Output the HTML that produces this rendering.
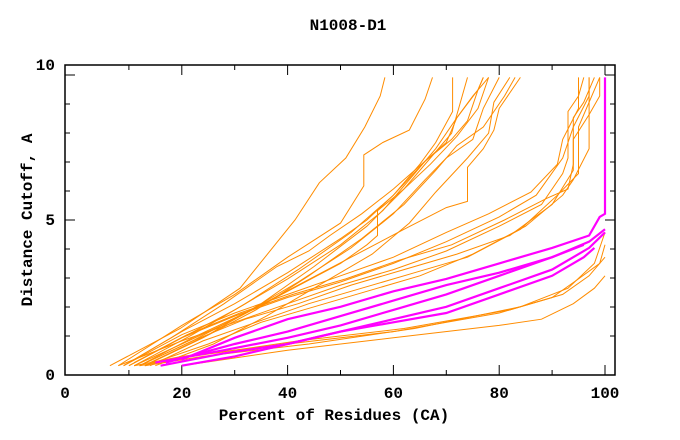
<!DOCTYPE html>
<html><head><meta charset="utf-8"><style>
body{margin:0;background:#fff}
svg{display:block}
text{font-family:"Liberation Mono",monospace;font-weight:bold;font-size:16px;fill:#000}
</style></head><body>
<svg id="chart" width="680" height="440" viewBox="0 0 680 440" xmlns="http://www.w3.org/2000/svg">
<text x="348" y="30" text-anchor="middle">N1008-D1</text>
<text x="334" y="420" text-anchor="middle">Percent of Residues (CA)</text>
<text transform="translate(32,220) rotate(-90)" text-anchor="middle">Distance Cutoff, A</text>
<g id="ticks"></g>
<g id="series"></g>
<rect x="65" y="65" width="550" height="310" fill="none" stroke="#000" stroke-width="1.5"/>
</svg>
<script>
const xTickVals=[10,20,30,40,50,60,70,80,90,100];
const xTickLabels=["0","20","40","60","80","100"];
const yTickLabels=["0","5","10"];
const orangeSeries=[
[[6.4,0.3],[19.7,1.5],[31,2.8],[41.4,5.0],[46,6.2],[51,7.0],[54.6,8.0],[57.5,9.0],[58.4,9.6]],
[[8,0.3],[20,1.6],[30,2.6],[40,3.8],[50,4.9],[54.4,6.1],[54.4,7.1],[58,7.5],[63,7.9],[66,8.9],[67.4,9.6]],
[[9,0.3],[20,1.4],[30,2.3],[40,3.3],[50,4.4],[55,5.0],[60,5.8],[65,6.8],[68,7.5],[71.2,8.5],[71.2,9.6]],
[[10,0.3],[20,1.2],[30,2.1],[40,3.1],[50,4.2],[58,5.3],[64,6.5],[68,7.3],[72,8.3],[75,9.0],[78,9.6]],
[[11,0.3],[22,1.3],[32,2.3],[42,3.4],[52,4.6],[60,5.8],[66,6.9],[71,7.6],[74,8.2],[76,9.2],[77,9.6]],
[[12,0.3],[22,1.1],[32,2.0],[42,3.0],[52,4.1],[60,5.2],[66,6.3],[70,7.0],[75,7.6],[77,8.6],[80,9.6]],
[[13,0.3],[24,1.2],[34,2.1],[44,3.2],[54,4.4],[62,5.5],[68,6.6],[72,7.4],[77,8.0],[81,9.0],[83,9.6]],
[[14,0.4],[25,1.3],[35,2.3],[45,3.5],[55,4.8],[62,6.0],[67,7.0],[71,7.8],[73,9.0],[74,9.6]],
[[15,0.3],[26,1.0],[36,1.9],[46,2.9],[56,3.9],[63,4.9],[68,5.9],[74,7.0],[78,7.8],[79,8.8],[82,9.6]],
[[12,0.3],[22,1.2],[32,2.0],[42,2.9],[52,3.8],[62,4.7],[70,5.4],[74,5.6],[74,6.7],[77,7.3],[79,7.9],[80,8.6],[84,9.6]],
[[9,0.3],[18,1.2],[28,2.3],[38,3.5],[44,4.0],[48,4.5],[54,5.2],[60,6.0],[66,6.9],[70,7.5],[72,8.3],[76,9.2],[77,9.6]],
[[11,0.3],[20,1.0],[30,1.8],[40,2.7],[50,3.6],[55,4.2],[57,4.5],[57,5.3],[62,6.0],[67,6.8],[72,7.7],[76,8.6],[78,9.6]],
[[8,0.3],[20,1.1],[30,1.7],[40,2.3],[50,2.9],[60,3.4],[70,4.0],[80,4.8],[88,5.5],[92,6.5],[93,7.0],[93,8.5],[95,9.0],[96,9.6]],
[[10,0.3],[20,1.2],[30,1.9],[40,2.5],[50,3.0],[60,3.6],[70,4.3],[80,5.1],[87,5.8],[92,7.0],[94,8.0],[97,9.0],[97,9.6]],
[[12,0.3],[22,1.1],[32,1.8],[42,2.3],[52,2.9],[62,3.4],[72,3.9],[82,4.5],[90,5.5],[94,6.6],[94,8.3],[96,8.8],[98,9.6]],
[[9,0.3],[20,1.3],[30,2.0],[40,2.6],[50,3.2],[60,3.8],[70,4.6],[78,5.2],[86,5.9],[91,6.8],[92,7.6],[95,8.6],[95,9.6]],
[[14,0.3],[24,1.1],[34,1.7],[44,2.3],[54,2.8],[64,3.3],[74,3.8],[84,4.7],[91,5.8],[95,6.5],[95,8.0],[99,9.6]],
[[11,0.4],[21,1.3],[31,2.0],[41,2.6],[51,3.1],[61,3.7],[71,4.2],[81,5.0],[89,5.7],[93,6.0],[94,6.8],[94,7.6],[97,8.4],[99,9.0],[99,9.6]],
[[13,0.3],[25,1.0],[35,1.7],[45,2.2],[55,2.7],[65,3.2],[75,3.9],[85,4.8],[92,5.8],[94,6.3],[97,7.3],[97,9.6]],
[[11,0.3],[20,0.6],[40,1.0],[60,1.4],[80,2.0],[90,2.5],[95,3.1],[99,3.6],[100,4.2]],
[[12,0.3],[22,0.6],[42,1.1],[62,1.5],[82,2.1],[92,2.6],[97,3.2],[100,3.8]],
[[13,0.3],[24,0.6],[44,1.0],[64,1.5],[84,2.2],[93,2.8],[98,3.6],[100,4.6]],
[[20,0.3],[40,0.8],[60,1.2],[80,1.6],[88,1.8],[94,2.3],[98,2.8],[100,3.2]]
];
const magentaSeries=[
[[20,0.5],[30,1.2],[40,1.8],[50,2.2],[60,2.7],[70,3.1],[80,3.6],[90,4.1],[97,4.5],[99,5.1],[100,5.2],[100,9.6]],
[[17,0.4],[30,1.0],[40,1.4],[50,1.9],[60,2.4],[70,2.9],[80,3.3],[90,3.8],[97,4.3],[100,4.7]],
[[15,0.4],[28,0.8],[40,1.2],[50,1.6],[60,2.1],[70,2.6],[80,3.2],[90,3.8],[96,4.2]],
[[20,0.3],[30,0.6],[40,1.0],[50,1.4],[60,1.8],[70,2.2],[80,2.8],[90,3.4],[97,4.1],[100,4.6]],
[[16,0.3],[28,0.7],[40,1.0],[50,1.4],[60,1.7],[70,2.0],[80,2.6],[90,3.2],[96,3.8],[98,4.1]]
];
const NS="http://www.w3.org/2000/svg";
function xs(p){return 76+5.29*p;}
function ys(c){return 375-31*c;}
const tg=document.getElementById('ticks');
function ln(x1,y1,x2,y2,name){
  const l=document.createElementNS(NS,'line');
  l.setAttribute('x1',x1);l.setAttribute('y1',y1);l.setAttribute('x2',x2);l.setAttribute('y2',y2);
  l.setAttribute('stroke','#000');l.setAttribute('stroke-width','1');
  
  
  tg.appendChild(l);
}
xTickVals.forEach((v,i)=>{
  const x=xs(v); const len=(v%20===0)?10:5;
  ln(x,375,x,375-len,'x-tick');
  ln(x,65,x,65+len,'x-tick-top');
});
[75,104,133,162,191,220,249,278,307,336].forEach((y,i)=>{
  const len=(i===0||i===5)?10:5;
  ln(65,y,65+len,y,'y-tick');
  ln(615,y,615-len,y,'y-tick-right');
});
function txt(s,x,y,anchor,name){
  const t=document.createElementNS(NS,'text');
  t.setAttribute('x',x);t.setAttribute('y',y);t.setAttribute('text-anchor',anchor);
  t.textContent=s;
  
  
  tg.appendChild(t);
}
const xLabelPos=[65,xs(20),xs(40),xs(60),xs(80),xs(100)];
xTickLabels.forEach((s,i)=>txt(s,xLabelPos[i],398,'middle','x-tick-label'));
const yLabelPos=[ys(0),ys(5),65];
yTickLabels.forEach((s,i)=>txt(s,55,yLabelPos[i]+5,'end','y-tick-label'));
const sg=document.getElementById('series');
function draw(series,color,w,name){
  series.forEach(pts=>{
    const p=document.createElementNS(NS,'polyline');
    p.setAttribute('points',pts.map(d=>xs(d[0]).toFixed(1)+','+ys(d[1]).toFixed(1)).join(' '));
    p.setAttribute('fill','none');p.setAttribute('stroke',color);p.setAttribute('stroke-width',w);
    
    
    sg.appendChild(p);
  });
}
draw(orangeSeries,'#ff8c00',1,'orange-model-line');
draw(magentaSeries,'#ff00ff',2.2,'magenta-model-line');
</script>
</body></html>
